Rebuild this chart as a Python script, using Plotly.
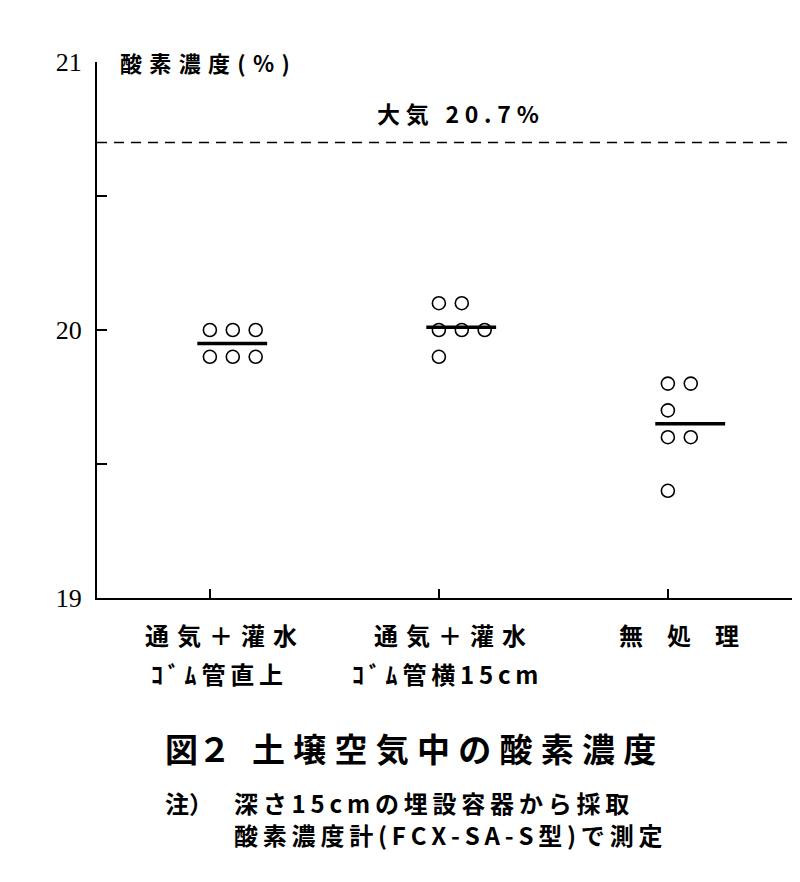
import plotly.graph_objects as go

# treatments along the x axis (two text lines each)
categories = ["通気＋灌水", "通気＋灌水", "無処理"]
sub_labels = ["ｺﾞﾑ管直上", "ｺﾞﾑ管横15cm", ""]

# oxygen readings (%): level of each row of dots and how many dots sit on it
levels = [[20.0, 19.9], [20.1, 20.0, 19.9], [19.8, 19.7, 19.6, 19.4]]
counts = [[3, 3], [2, 3, 1], [2, 1, 2, 1]]
means = [19.95, 20.01, 19.65]

air_level = 20.7
air_label = "大気 20.7%"

y_ticks = [19, 19.5, 20, 20.5, 21]
y_tick_text = ["19", "", "20", "", "21"]

y_title = "酸素濃度(%)"
caption = "図２　土壌空気中の酸素濃度"
note_head = "注）"
note_1 = "深さ15cmの埋設容器から採取"
note_2 = "酸素濃度計(FCX-SA-S型)で測定"

JP = "Noto Sans CJK JP"
DOT_STEP = 0.1


def spread(_s, _gap):
    return _gap.join(_s)


def addText(_fig, _text, _x, _y, _size, _xref="paper", _anchor="left"):
    _fig.add_annotation(text=_text, x=_x, y=_y, xref=_xref, yref="paper",
                        xanchor=_anchor, yanchor="middle", showarrow=False,
                        font=dict(family=JP, size=_size, color="black", weight="bold"))


fig = go.Figure()

for i in range(len(categories)):
    xs, ys = [], []
    for lv, n in zip(levels[i], counts[i]):
        for k in range(n):
            xs.append(i + k * DOT_STEP)
            ys.append(lv)
    fig.add_trace(go.Scatter(x=xs, y=ys, mode="markers",
                             marker=dict(symbol="circle-open", size=13, color="black",
                                         line=dict(width=1.6))))
    fig.add_trace(go.Scatter(x=[i - 0.055, i + 0.25], y=[means[i], means[i]], mode="lines",
                             line=dict(color="black", width=3.5)))

# outside air reference
fig.add_shape(type="line", xref="paper", x0=0, x1=1, y0=air_level, y1=air_level,
              line=dict(color="black", width=1.5, dash="10px,7px"))

# page has an 8px body margin, so the margins are trimmed by 8
fig.update_layout(
    width=800, height=882, showlegend=False,
    paper_bgcolor="white", plot_bgcolor="white",
    margin=dict(l=89, r=8, t=54, b=292),
)
fig.update_xaxes(range=[-0.493, 2.577], showgrid=False, zeroline=False,
                 showline=True, linecolor="black", linewidth=2,
                 tickvals=list(range(len(categories))), ticktext=["", "", ""],
                 ticks="inside", ticklen=9, tickwidth=1.5, tickcolor="black")
fig.update_yaxes(range=[19, 21], showgrid=False, zeroline=False,
                 showline=True, linecolor="black", linewidth=2,
                 tickvals=y_ticks, ticktext=y_tick_text,
                 ticks="inside", ticklen=10, tickwidth=2, tickcolor="black",
                 ticklabelstandoff=8,
                 tickfont=dict(family="Liberation Serif", size=26, color="black"))

addText(fig, spread(y_title, "\u2004"), 0.030, 1.0, 22)
addText(fig, spread(air_label, "\u2005"), 0.395, 0.905, 23)

for i in range(len(categories)):
    line1 = spread(categories[i], "\u2003" if i == 2 else "\u2004")
    addText(fig, line1, i + 0.05, -0.069, 24, _xref="x", _anchor="center")
    if sub_labels[i]:
        addText(fig, spread(sub_labels[i], "\u2009"), i + 0.03, -0.140, 24, _xref="x", _anchor="center")

cap_num, cap_title = caption.split("　")
addText(fig, cap_num, 0.094, -0.280, 33)
addText(fig, spread(cap_title, "\u2005"), 0.218, -0.280, 33)
addText(fig, note_head, 0.094, -0.382, 24)
addText(fig, spread(note_1, "\u2009"), 0.192, -0.382, 24)
addText(fig, spread(note_2, "\u2009"), 0.192, -0.442, 24)

fig.write_html("out.html")
